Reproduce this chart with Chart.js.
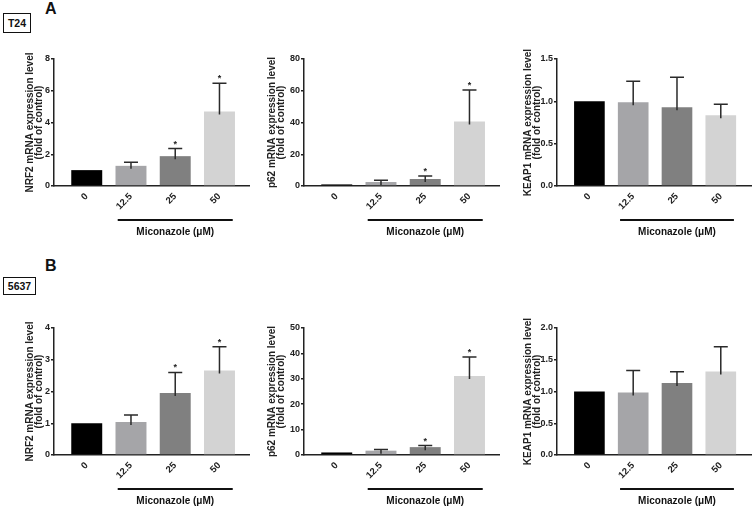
<!DOCTYPE html>
<html><head><meta charset="utf-8">
<script src="https://cdn.jsdelivr.net/npm/chart.js@4/dist/chart.umd.min.js"></script>
<style>
body{margin:0;background:#fff;width:753px;height:510px;position:relative;overflow:hidden;font-family:"Liberation Sans",Arial,sans-serif;}
canvas{position:absolute;}
.lbl{position:absolute;font-weight:bold;font-size:16px;line-height:16px;color:#111;}
.box{position:absolute;border:1.5px solid #111;font-weight:bold;font-size:10.5px;display:flex;align-items:center;justify-content:center;box-sizing:border-box;color:#111;}
</style></head><body>
<div class="lbl" style="left:45px;top:1px">A</div>
<div class="box" style="left:3px;top:13px;width:28px;height:20px">T24</div>
<div class="lbl" style="left:45px;top:258px">B</div>
<div class="box" style="left:3px;top:277px;width:33px;height:18px">5637</div>
<canvas id="c0"></canvas><canvas id="c1"></canvas><canvas id="c2"></canvas>
<canvas id="c3"></canvas><canvas id="c4"></canvas><canvas id="c5"></canvas>
<script>
// ---- data ----
const doses = ['0', '12.5', '25', '50'];
const xTitle = 'Miconazole (\u03bcM)';
const yTitle2 = '(fold of control)';

const t24Nrf2Mean = [1.0, 1.27, 1.88, 4.69];
const t24Nrf2Sd   = [0, 0.22, 0.48, 1.79];
const t24Nrf2Sig  = ['', '', '*', '*'];

const t24P62Mean = [1.0, 2.5, 4.4, 40.6];
const t24P62Sd   = [0, 1.1, 1.9, 19.8];
const t24P62Sig  = ['', '', '*', '*'];

const t24Keap1Mean = [1.0, 0.99, 0.93, 0.836];
const t24Keap1Sd   = [0, 0.246, 0.353, 0.13];
const t24Keap1Sig  = ['', '', '', ''];

const c5637Nrf2Mean = [1.0, 1.04, 1.95, 2.66];
const c5637Nrf2Sd   = [0, 0.22, 0.65, 0.75];
const c5637Nrf2Sig  = ['', '', '*', '*'];

const c5637P62Mean = [1.0, 1.7, 3.1, 31.1];
const c5637P62Sd   = [0, 0.5, 0.6, 7.5];
const c5637P62Sig  = ['', '', '*', '*'];

const c5637Keap1Mean = [1.0, 0.986, 1.134, 1.316];
const c5637Keap1Sd   = [0, 0.344, 0.176, 0.389];
const c5637Keap1Sig  = ['', '', '', ''];

const yMaxes = [8, 80, 1.5, 4, 50, 2.0];
const ySteps = [2, 20, 0.5, 1, 10, 0.5];

// ---- style ----
const FONT = '"Liberation Sans", Arial, sans-serif';
const barColors = ['#000000', '#a5a5a8', '#808080', '#d3d3d3'];
const INK = '#222';

const errPlugin = {
  id: 'errExtras',
  afterDatasetsDraw(chart, args, o) {
    const {ctx, chartArea, scales: {x, y}} = chart;
    ctx.save();
    o.means.forEach((m, i) => {
      const sd = o.sd[i];
      const px = x.getPixelForValue(i);
      const top = y.getPixelForValue(m + sd);
      if (sd > 0) {
        const base = y.getPixelForValue(m);
        ctx.strokeStyle = '#2a2a2a'; ctx.lineWidth = 1.5;
        ctx.beginPath();
        ctx.moveTo(px, base + 3); ctx.lineTo(px, top);
        ctx.moveTo(px - 7, top); ctx.lineTo(px + 7, top);
        ctx.stroke();
      }
      if (o.sig[i]) {
        ctx.fillStyle = INK; ctx.font = 'bold 9px ' + FONT;
        ctx.textAlign = 'center'; ctx.textBaseline = 'alphabetic';
        ctx.fillText(o.sig[i], px, top - 2);
      }
    });
    const x1 = x.getPixelForValue(0.7), x2 = x.getPixelForValue(3.3);
    const ly = chartArea.bottom + 34;
    ctx.strokeStyle = '#111'; ctx.lineWidth = 1.8;
    ctx.beginPath(); ctx.moveTo(x1, ly); ctx.lineTo(x2, ly); ctx.stroke();
    ctx.fillStyle = '#111'; ctx.font = 'bold 10px ' + FONT;
    ctx.textAlign = 'center'; ctx.textBaseline = 'middle';
    ctx.fillText(o.title, (x1 + x2) / 2, chartArea.bottom + 46);
    ctx.restore();
  }
};

const panels = [
  {id:'c0', means:t24Nrf2Mean, sd:t24Nrf2Sd, sig:t24Nrf2Sig, yt:'NRF2 mRNA expression level', dec:false},
  {id:'c1', means:t24P62Mean, sd:t24P62Sd, sig:t24P62Sig, yt:'p62 mRNA expression level', dec:false},
  {id:'c2', means:t24Keap1Mean, sd:t24Keap1Sd, sig:t24Keap1Sig, yt:'KEAP1 mRNA expression level', dec:true},
  {id:'c3', means:c5637Nrf2Mean, sd:c5637Nrf2Sd, sig:c5637Nrf2Sig, yt:'NRF2 mRNA expression level', dec:false},
  {id:'c4', means:c5637P62Mean, sd:c5637P62Sd, sig:c5637P62Sig, yt:'p62 mRNA expression level', dec:false},
  {id:'c5', means:c5637Keap1Mean, sd:c5637Keap1Sd, sig:c5637Keap1Sig, yt:'KEAP1 mRNA expression level', dec:true}
];
// layout (page pixels)
const colLeft = [0, 250, 500], colW = [250, 250, 253];
const axisLeft = [54, 304, 557], axisRight = [250, 500, 751];
const titlePad = [25, 17, 23];
const rowTop = [40, 308], rowH = [215, 202];
const areaTop = [59, 328], areaBottom = [186, 455];

panels.forEach((p, k) => {
  const c = k % 3, r = Math.floor(k / 3);
  const cv = document.getElementById(p.id);
  cv.width = colW[c]; cv.height = rowH[r];
  cv.style.left = colLeft[c] + 'px'; cv.style.top = rowTop[r] + 'px';
  const yw = axisLeft[c] - colLeft[c];
  const xh = rowTop[r] + rowH[r] - areaBottom[r];
  new Chart(cv, {
    type: 'bar',
    data: { datasets: [{
      data: p.means.map((v, i) => ({x: i, y: v})),
      backgroundColor: barColors, borderWidth: 0,
      barPercentage: 0.7, categoryPercentage: 1
    }]},
    options: {
      responsive: false, animation: false, devicePixelRatio: 1,
      layout: { padding: { top: areaTop[r] - rowTop[r], right: colLeft[c] + colW[c] - axisRight[c], left: 0, bottom: 0 } },
      plugins: {
        legend: {display: false}, tooltip: {enabled: false},
        errExtras: { means: p.means, sd: p.sd, sig: p.sig, title: xTitle }
      },
      scales: {
        x: {
          type: 'linear', min: -0.74, max: 3.69, offset: false,
          grid: {display: false, drawTicks: false, tickLength: 0, offset: false},
          border: {display: true, color: INK, width: 1.5},
          afterBuildTicks: a => { a.ticks = doses.map((_, i) => ({value: i})); },
          ticks: { autoSkip: false, minRotation: 45, maxRotation: 45, padding: 5, color: INK,
                   font: {family: FONT, size: 9.5, weight: 'bold'},
                   callback: v => doses[v] },
          afterFit: s => { s.height = xh; }
        },
        y: {
          min: 0, max: yMaxes[k],
          grid: {display: true, drawOnChartArea: false, drawTicks: true, tickLength: 3, color: INK, lineWidth: 1.5},
          border: {display: true, color: INK, width: 1.5},
          ticks: { stepSize: ySteps[k], padding: 1, color: INK,
                   font: {family: FONT, size: 9, weight: 'bold'},
                   callback: v => p.dec ? Number(v).toFixed(1) : v },
          title: { display: true, text: [p.yt, yTitle2], color: INK,
                   font: {family: FONT, size: 10, weight: 'bold', lineHeight: 0.95},
                   padding: {top: titlePad[c], bottom: 0} },
          afterFit: s => { s.width = yw; }
        }
      }
    },
    plugins: [errPlugin]
  });
});
</script>
</body></html>
